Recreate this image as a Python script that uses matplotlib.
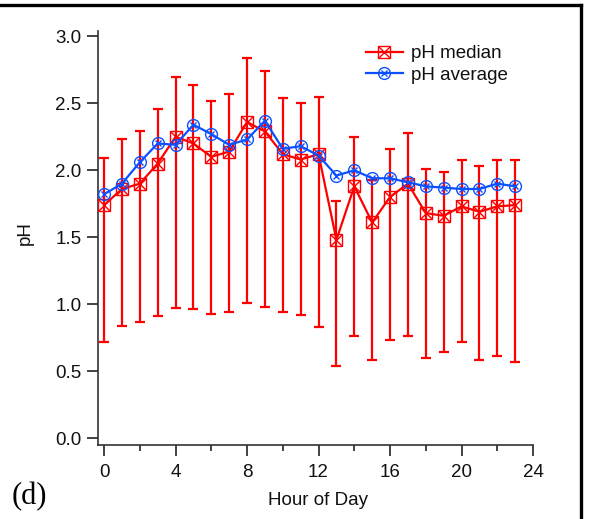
import matplotlib
matplotlib.use("Agg")
import matplotlib.pyplot as plt
from matplotlib.lines import Line2D
from matplotlib.legend_handler import HandlerTuple
import numpy as np

hours = list(range(24))
ph_median = [1.74, 1.86, 1.90, 2.05, 2.25, 2.20, 2.10, 2.14, 2.36, 2.29, 2.12, 2.08,
             2.12, 1.48, 1.88, 1.61, 1.80, 1.90, 1.68, 1.66, 1.73, 1.69, 1.73, 1.74]
ph_average = [1.82, 1.90, 2.06, 2.20, 2.19, 2.34, 2.27, 2.19, 2.23, 2.37, 2.16, 2.18,
              2.11, 1.96, 2.00, 1.94, 1.94, 1.91, 1.88, 1.87, 1.86, 1.86, 1.90, 1.88]
err_upper = [2.09, 2.23, 2.29, 2.46, 2.70, 2.64, 2.52, 2.57, 2.84, 2.74, 2.54, 2.50,
             2.55, 1.77, 2.25, 1.93, 2.16, 2.28, 2.01, 1.99, 2.08, 2.03, 2.08, 2.08]
err_lower = [0.72, 0.84, 0.87, 0.91, 0.97, 0.96, 0.93, 0.94, 1.01, 0.98, 0.94, 0.92,
             0.83, 0.54, 0.76, 0.58, 0.73, 0.76, 0.60, 0.64, 0.72, 0.58, 0.61, 0.57]
x_ticks = [0, 4, 8, 12, 16, 20, 24]
y_ticks = [0.0, 0.5, 1.0, 1.5, 2.0, 2.5, 3.0]

plt.rcParams['font.family'] = ['Liberation Sans', 'DejaVu Sans']

RED = '#ff0000'
BLUE = '#0a50ff'
FS = 13.5

fig = plt.figure(figsize=(5.89, 5.19), dpi=100)
ax = fig.add_axes([98/589, 74/519, (533-98)/589, (488-74)/519])

med = np.array(ph_median)
yerr = [med - np.array(err_lower), np.array(err_upper) - med]
ax.errorbar(hours, ph_median, yerr=yerr, fmt='none', ecolor=RED, elinewidth=1.6,
            capsize=3.8, capthick=1.6, zorder=2)

l_med, = ax.plot(hours, ph_median, color=RED, lw=1.6, marker='s', ms=8,
                 mfc='none', mec=RED, mew=1.0, zorder=3)
x_med, = ax.plot(hours, ph_median, ls='none', marker='x', ms=8, mec=RED,
                 mew=1.0, zorder=3)
l_avg, = ax.plot(hours, ph_average, color=BLUE, lw=1.6, marker='o', ms=8.5,
                 mfc='none', mec=BLUE, mew=1.0, zorder=4)
x_avg, = ax.plot(hours, ph_average, ls='none', marker='x', ms=5, mec=BLUE,
                 mew=1.0, zorder=4)

ax.set_xlim(-0.34, 24)
ax.set_ylim(-0.052, 3.04)
ax.set_xticks(x_ticks)
ax.set_xticks([2, 6, 10, 14, 18, 22], minor=True)
ax.set_yticks(y_ticks)
ax.set_yticklabels([f"{v:.1f}" for v in y_ticks])
for s in ['top', 'right']:
    ax.spines[s].set_visible(False)
for s in ['left', 'bottom']:
    ax.spines[s].set_color('#333333')
    ax.spines[s].set_linewidth(1.2)
ax.tick_params(axis='both', which='major', direction='out', length=8, width=1.2,
               labelsize=FS, colors='#222222', labelcolor='#111111')
ax.tick_params(axis='x', which='major', pad=5.5)
ax.tick_params(axis='y', which='major', pad=4)
ax.tick_params(axis='x', which='minor', direction='out', length=4, width=1.2,
               colors='#222222')

fig.text(318/589, 1-505/519, 'Hour of Day', fontsize=FS, ha='center', va='baseline',
         color='#111111')
fig.text(25/589, 1-233/519, 'pH', fontsize=FS, ha='center', va='center', rotation=90,
         color='#111111')

leg = ax.legend([(l_med, x_med), (l_avg, x_avg)], ['pH median', 'pH average'],
                handler_map={tuple: HandlerTuple(ndivide=1)},
                loc='upper left', bbox_to_anchor=(366/589, 1-45/519),
                bbox_transform=fig.transFigure, frameon=False, fontsize=FS,
                borderpad=0, borderaxespad=0, handlelength=1.95, handletextpad=0.45,
                labelspacing=0.25, numpoints=1)
for t in leg.get_texts():
    t.set_color('#111111')

fig.text(12/589, 1-504/519, '(d)', fontsize=22, family=['Liberation Serif', 'DejaVu Serif'],
         ha='left', va='baseline')

fig.add_artist(Line2D([0, 581/589], [1-5/519, 1-5/519], color='black', lw=2.4,
                      transform=fig.transFigure))
fig.add_artist(Line2D([581/589, 581/589], [0, 1-5/519], color='black', lw=2.4,
                      transform=fig.transFigure))

fig.savefig('out.png', dpi=100)
